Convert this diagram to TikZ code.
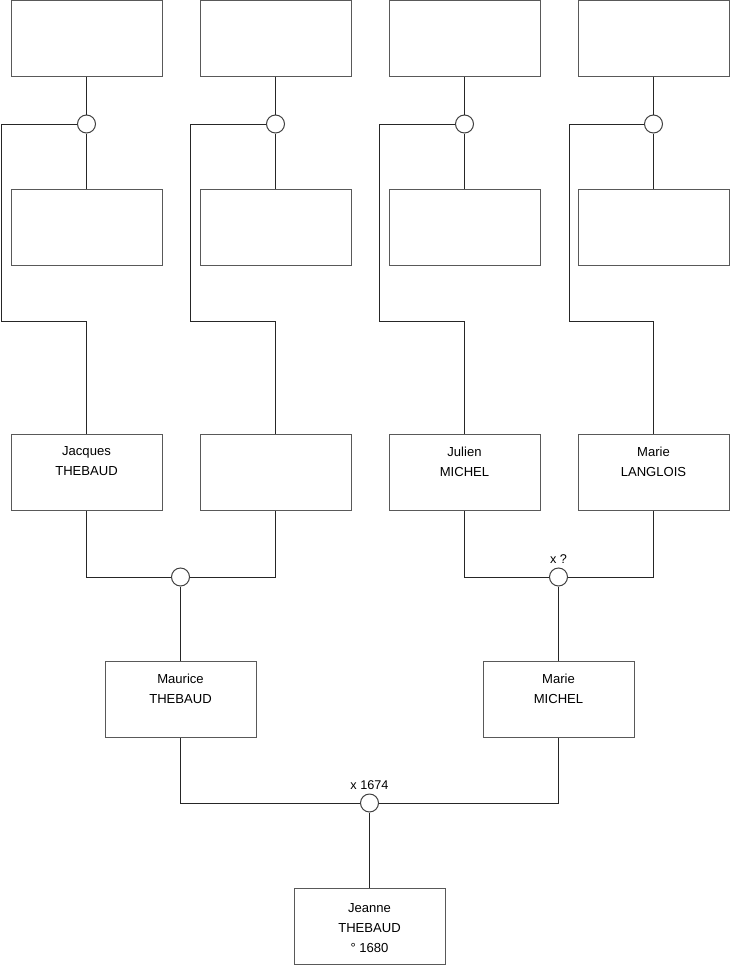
\documentclass[tikz,border=0pt]{standalone}
\usepackage{fontspec}
\setmainfont{Liberation Sans}
\usetikzlibrary{positioning}

\tikzset{
  person/.style={draw=black!65, line width=0.75pt, minimum width=113.25pt, minimum height=57pt, inner sep=0pt},
  names/.style={align=center, inner sep=0pt, anchor=north, font=\fontsize{9.8}{15}\selectfont},
  union/.style={circle, draw=black!75, line width=0.75pt, minimum size=13.5pt, inner sep=0pt, fill=white},
  date/.style={font=\fontsize{9.5}{11}\selectfont, inner sep=1pt},
  link/.style={line width=0.75pt, black!85},
}

\begin{document}
\begin{tikzpicture}[x=0.75pt,y=-0.75pt]
  \useasboundingbox (0,0) rectangle (740,975);

  % top row and second row (unknown ancestors)
  \node[person] (t1) at (86.5,38) {};
  \node[person] (t2) at (275.5,38) {};
  \node[person] (t3) at (464.5,38) {};
  \node[person] (t4) at (653.5,38) {};

  \node[person] (s1) at (86.5,227) {};
  \node[person] (s2) at (275.5,227) {};
  \node[person] (s3) at (464.5,227) {};
  \node[person] (s4) at (653.5,227) {};

  \node[union] (c1) at (86.5,124) {};
  \node[union] (c2) at (275.5,124) {};
  \node[union] (c3) at (464.5,124) {};
  \node[union] (c4) at (653.5,124) {};

  % grandparents
  \node[person] (p1) at (86.5,472.5) {};
  \node[person] (p2) at (275.5,472.5) {};
  \node[person] (p3) at (464.5,472.5) {};
  \node[person] (p4) at (653.5,472.5) {};

  \node[names] (p1n) at ([yshift=-9.3pt]p1.north) {Jacques\\THEBAUD};
  \node[names] (p3n) at ([yshift=-9.3pt]p3.north) {Julien\\MICHEL};
  \node[names] (p4n) at ([yshift=-9.3pt]p4.north) {Marie\\LANGLOIS};

  \node[union] (m1) at (180.5,577) {};
  \node[union] (m2) at (558.5,577) {};
  \node[date, above=1.5pt of m2] (m2d) {x ?};

  % parents
  \node[person] (q1) at (180.5,699.5) {};
  \node[person] (q2) at (558.5,699.5) {};
  \node[names] (q1n) at ([yshift=-9.3pt]q1.north) {Maurice\\THEBAUD};
  \node[names] (q2n) at ([yshift=-9.3pt]q2.north) {Marie\\MICHEL};

  \node[union] (m3) at (369.5,803) {};
  \node[date, above=1.5pt of m3] (m3d) {x 1674};

  % child
  \node[person] (r) at (369.5,926) {};
  \node[names] (rn) at ([yshift=-11.6pt]r.north) {Jeanne\\THEBAUD\\° 1680};

  \coordinate (k1) at (1,321);
  \coordinate (k2) at (190,321);
  \coordinate (k3) at (379,321);
  \coordinate (k4) at (569,321);

  \foreach \i in {1,...,4}{
    \draw[link] (t\i.south) -- (c\i.north);
    \draw[link] (c\i.south) -- (s\i.north);
    \draw[link] (c\i.west) -| (k\i) -| (p\i.north);
  }

  \draw[link] (p1.south) |- (m1.west);
  \draw[link] (p2.south) |- (m1.east);
  \draw[link] (m1.south) -- (q1.north);

  \draw[link] (p3.south) |- (m2.west);
  \draw[link] (p4.south) |- (m2.east);
  \draw[link] (m2.south) -- (q2.north);

  \draw[link] (q1.south) |- (m3.west);
  \draw[link] (q2.south) |- (m3.east);
  \draw[link] (m3.south) -- (r.north);
\end{tikzpicture}
\end{document}
